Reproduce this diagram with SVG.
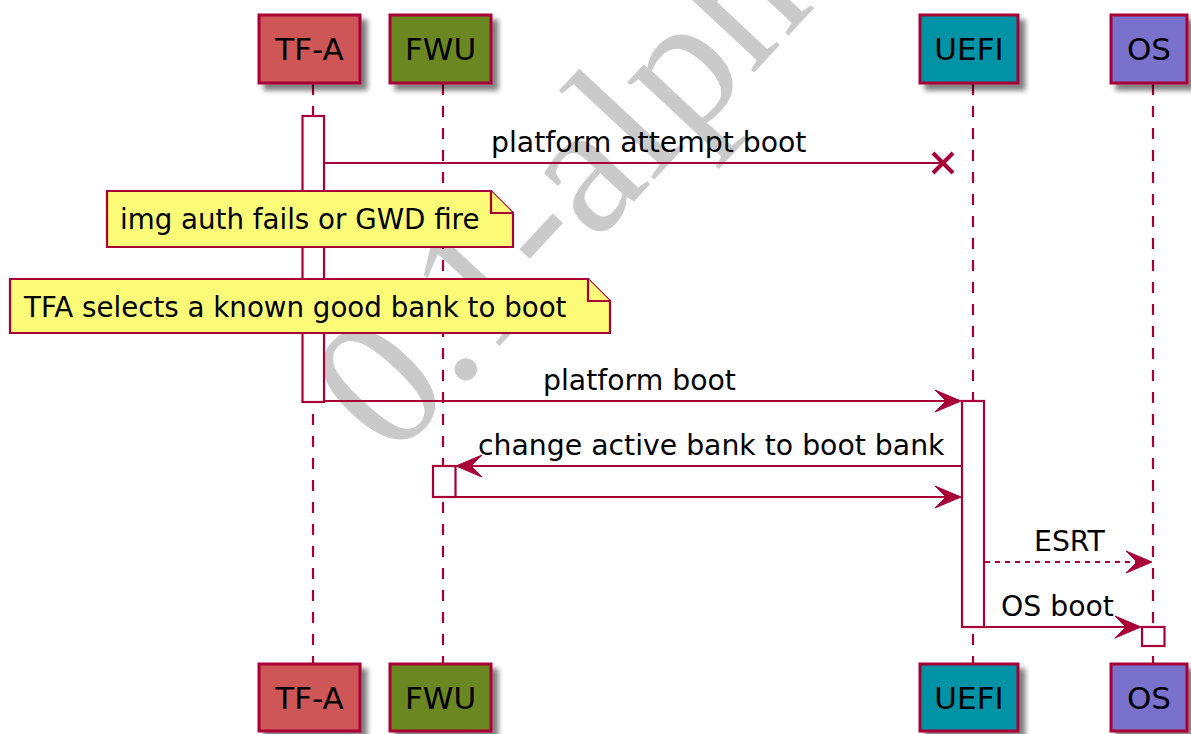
<svg xmlns="http://www.w3.org/2000/svg" width="1191" height="734" viewBox="0 0 1191 734">
<style>
.pbox{stroke:#A80036;stroke-width:3}
.ptxt{font-family:"DejaVu Sans",sans-serif;font-size:31px;fill:#000;text-anchor:middle}
.life{stroke:#A80036;stroke-width:2.2;stroke-dasharray:11,11;fill:none}
.act{fill:#fff;stroke:#A80036;stroke-width:2.2}
.note{fill:#FBFB77;stroke:#A80036;stroke-width:2.2}
.ntxt{font-family:"DejaVu Sans",sans-serif;font-size:27.7px;fill:#000}
.msg{stroke:#A80036;stroke-width:2.2;fill:none}
.mtxt{font-family:"DejaVu Sans",sans-serif;font-size:28.3px;fill:#000}
.head{fill:#A80036;stroke:#A80036;stroke-width:1}
.wm{font-family:"Liberation Serif","Times New Roman",serif;font-size:188px;fill:#cacaca}
</style>
<defs>
<filter id="sh" x="-20%" y="-20%" width="150%" height="150%">
<feGaussianBlur in="SourceAlpha" stdDeviation="2.5"/>
<feOffset dx="6" dy="6" result="b"/>
<feFlood flood-color="#000" flood-opacity="0.5"/>
<feComposite in2="b" operator="in"/>
<feMerge><feMergeNode/><feMergeNode in="SourceGraphic"/></feMerge>
</filter>
</defs>
<rect width="1191" height="734" fill="#fff"/>
<text class="wm" transform="translate(392,461) rotate(-47)">0.1-alpha</text>

<g id="lifelines">
<line class="life" x1="313" y1="84" x2="313" y2="663"/>
<line class="life" x1="443" y1="84" x2="443" y2="663"/>
<line class="life" x1="973" y1="84" x2="973" y2="663"/>
<line class="life" x1="1153" y1="84" x2="1153" y2="663"/>
</g>

<g id="TF-A">
<rect class="pbox" x="259" y="15" width="101" height="68" fill="#CF5757" filter="url(#sh)"/>
<text class="ptxt" x="309.5" y="60">TF-A</text>
<rect class="pbox" x="259" y="664" width="101" height="67" fill="#CF5757" filter="url(#sh)"/>
<text class="ptxt" x="309.5" y="709">TF-A</text>
</g>
<g id="FWU">
<rect class="pbox" x="390" y="15" width="101" height="68" fill="#6B8722" filter="url(#sh)"/>
<text class="ptxt" x="440.5" y="60">FWU</text>
<rect class="pbox" x="390" y="664" width="101" height="67" fill="#6B8722" filter="url(#sh)"/>
<text class="ptxt" x="440.5" y="709">FWU</text>
</g>
<g id="UEFI">
<rect class="pbox" x="920" y="15" width="98" height="68" fill="#0092A5" filter="url(#sh)"/>
<text class="ptxt" x="969" y="60">UEFI</text>
<rect class="pbox" x="920" y="664" width="98" height="67" fill="#0092A5" filter="url(#sh)"/>
<text class="ptxt" x="969" y="709">UEFI</text>
</g>
<g id="OS">
<rect class="pbox" x="1111" y="15" width="76" height="68" fill="#7A71CC" filter="url(#sh)"/>
<text class="ptxt" x="1149" y="60">OS</text>
<rect class="pbox" x="1111" y="664" width="76" height="67" fill="#7A71CC" filter="url(#sh)"/>
<text class="ptxt" x="1149" y="709">OS</text>
</g>

<g id="activations">
<rect class="act" x="302.5" y="116" width="21.5" height="286"/>
<rect class="act" x="433" y="466" width="22.5" height="31"/>
<rect class="act" x="962" y="401" width="22" height="226"/>
<rect class="act" x="1142" y="627" width="22.5" height="19"/>
</g>

<g id="note1">
<path class="note" d="M107,191 L491,191 L513,213 L513,247 L107,247 Z"/>
<path class="note" d="M491,191 L491,213 L513,213" fill="none"/>
<text class="ntxt" x="120" y="229">img auth fails or GWD fire</text>
</g>
<g id="note2">
<path class="note" d="M10,279 L588,279 L610,301 L610,333 L10,333 Z"/>
<path class="note" d="M588,279 L588,301 L610,301" fill="none"/>
<text class="ntxt" x="24" y="317">TFA selects a known good bank to boot</text>
</g>

<g id="connectors">
<line class="msg" x1="324" y1="163" x2="943" y2="163"/>
<path d="M933,153 L953,173 M953,153 L933,173" stroke="#A80036" stroke-width="4" fill="none"/>
<text class="mtxt" x="491" y="152">platform attempt boot</text>

<line class="msg" x1="324" y1="401" x2="958" y2="401"/>
<polygon class="head" points="935,390 961,401 935,412 946,401"/>
<text class="mtxt" x="543" y="390">platform boot</text>

<line class="msg" x1="962" y1="466" x2="460" y2="466"/>
<polygon class="head" points="482,455 456,466 482,477 471,466"/>
<text class="mtxt" x="478" y="455">change active bank to boot bank</text>

<line class="msg" x1="456" y1="497" x2="958" y2="497"/>
<polygon class="head" points="935,486 961,497 935,508 946,497"/>

<line class="msg" x1="985" y1="562" x2="1150" y2="562" stroke-dasharray="5,5"/>
<polygon class="head" points="1126,551 1152,562 1126,573 1137,562"/>
<text class="mtxt" x="1034" y="551">ESRT</text>

<line class="msg" x1="985" y1="627" x2="1138" y2="627"/>
<polygon class="head" points="1115,616 1141,627 1115,638 1126,627"/>
<text class="mtxt" x="1001" y="616">OS boot</text>
</g>
</svg>
